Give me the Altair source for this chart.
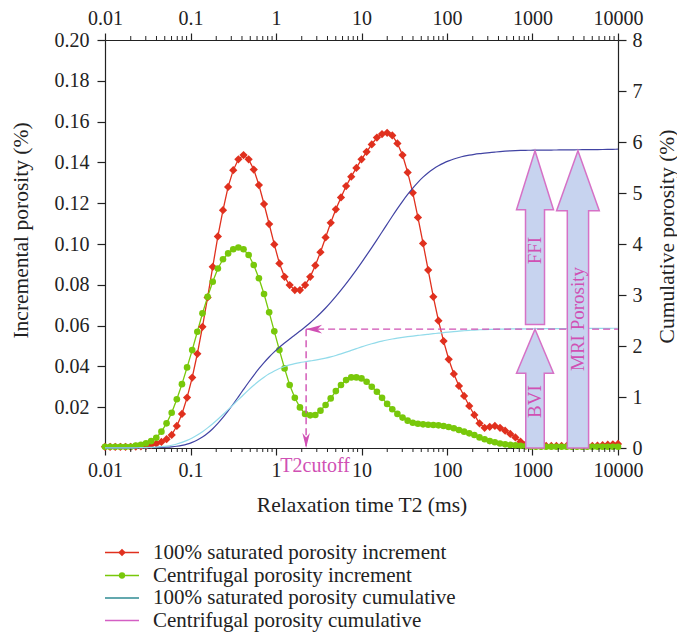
import altair as alt
import pandas as pd

FONT = "Liberation Serif"

# ---------------- data ----------------
t2 = [0.01000, 0.01148, 0.01318, 0.01514, 0.01738, 0.01995, 0.02291, 0.02630, 0.03020, 0.03467,
      0.03981, 0.04571, 0.05248, 0.06026, 0.06918, 0.07943, 0.09120,
      0.1047, 0.1202, 0.1380, 0.1585, 0.1820, 0.2089, 0.2399, 0.2754, 0.3162, 0.3631,
      0.4169, 0.4786, 0.5495, 0.6310, 0.7244, 0.8318, 0.9550,
      1.096, 1.259, 1.445, 1.660, 1.905, 2.188, 2.512, 2.884, 3.311, 3.802,
      4.365, 5.012, 5.754, 6.607, 7.586, 8.710,
      10.00, 11.48, 13.18, 15.14, 17.38, 19.95, 22.91, 26.30, 30.20, 34.67,
      39.81, 45.71, 52.48, 60.26, 69.18, 79.43, 91.20,
      104.7, 120.2, 138.0, 158.5, 182.0, 208.9, 239.9, 275.4, 316.2, 363.1,
      416.9, 478.6, 549.5, 631.0, 724.4, 831.8, 955.0,
      1096, 1259, 1445, 1660, 1905, 2188, 2512, 2884, 3311, 3802,
      4365, 5012, 5754, 6607, 7586, 8710, 10000]

sat_inc = [0.0006, 0.0006, 0.0006, 0.0006, 0.0006, 0.0006, 0.0007, 0.0008, 0.0010, 0.0015,
           0.0021, 0.0030, 0.0043, 0.0064, 0.0108, 0.0167, 0.0247, 0.0345, 0.0462, 0.0594,
           0.0738, 0.0888, 0.1037, 0.1166, 0.1280, 0.1362, 0.1415, 0.1436, 0.1415, 0.1365,
           0.1289, 0.1196, 0.1098, 0.0998, 0.0905, 0.0839, 0.0799, 0.0774, 0.0774, 0.0799,
           0.0839, 0.0895, 0.0960, 0.1032, 0.1104, 0.1170, 0.1228, 0.1284, 0.1330, 0.1373,
           0.1415, 0.1452, 0.1488, 0.1522, 0.1539, 0.1545, 0.1532, 0.1493, 0.1436, 0.1351,
           0.1251, 0.1130, 0.1003, 0.0872, 0.0741, 0.0624, 0.0524, 0.0435, 0.0363, 0.0304,
           0.0255, 0.0206, 0.0162, 0.0121, 0.0099, 0.0104, 0.0108, 0.0099, 0.0085, 0.0069,
           0.0052, 0.0031, 0.0018, 0.0012, 0.0010, 0.0010, 0.0010, 0.0010, 0.0010, 0.0010,
           0.0010, 0.0010, 0.0010, 0.0010, 0.0010, 0.0010, 0.0012, 0.0014, 0.0016, 0.0018,
           0.0020]

cen_inc = [0.0006, 0.0006, 0.0006, 0.0006, 0.0006, 0.0006, 0.0012, 0.0016, 0.0023, 0.0034,
           0.0050, 0.0080, 0.0121, 0.0173, 0.0239, 0.0313, 0.0395, 0.0480, 0.0570, 0.0660,
           0.0741, 0.0815, 0.0880, 0.0925, 0.0954, 0.0974, 0.0983, 0.0974, 0.0946, 0.0897,
           0.0832, 0.0755, 0.0665, 0.0572, 0.0480, 0.0390, 0.0309, 0.0246, 0.0199, 0.0167,
           0.0160, 0.0162, 0.0183, 0.0211, 0.0243, 0.0279, 0.0309, 0.0333, 0.0346, 0.0346,
           0.0341, 0.0325, 0.0300, 0.0276, 0.0246, 0.0216, 0.0190, 0.0167, 0.0149, 0.0134,
           0.0124, 0.0119, 0.0116, 0.0114, 0.0113, 0.0111, 0.0108, 0.0103, 0.0097, 0.0088,
           0.0080, 0.0072, 0.0064, 0.0052, 0.0043, 0.0034, 0.0028, 0.0022, 0.0018, 0.0015,
           0.0013, 0.0011, 0.0008, 0.0007, 0.0006, 0.0006, 0.0006, 0.0006, 0.0006, 0.0006,
           0.0006, 0.0006, 0.0006, 0.0006, 0.0006, 0.0006, 0.0006, 0.0006, 0.0006, 0.0006,
           0.0006]

x_decades = [0.01, 0.1, 1, 10, 100, 1000, 10000]
minor_ticks = [m * d for d in [0.01, 0.1, 1, 10, 100, 1000] for m in range(2, 10)]
y_left_ticks = [0.02, 0.04, 0.06, 0.08, 0.10, 0.12, 0.14, 0.16, 0.18, 0.20]
y_right_ticks = [0, 1, 2, 3, 4, 5, 6, 7, 8]

t2_cutoff = 2.25        # ms
bvi_cum = 2.33          # cumulative porosity at cutoff (%)
ffi_base = 2.42
total_cum = 5.83
arrow_names = ["BVI", "FFI", "MRI Porosity"]
arrow_t2 = [1070, 1070, 3400]
arrow_from = [0.0, ffi_base, 0.0]
arrow_to = [bvi_cum, total_cum, total_cum]
arrow_label_at = [0.91, 3.87, 2.53]

legend_labels = ["100% saturated porosity increment", "Centrifugal porosity increment",
                 "100% saturated porosity cumulative", "Centrifugal porosity cumulative"]
legend_colors = ["#e0301e", "#78c80a", "#2f8b93", "#d45fc4"]

# ---------------- style ----------------
W, H = 513, 408
PX_PER_CUM = H / 8.0
RED, GREEN, BLUE, CYAN = "#e0301e", "#78c80a", "#4143a3", "#92dbea"
MAG = "#d050b4"
ARROW_FILL, ARROW_STROKE = "#c7d3ef", "#d671c6"
TXT = "#222222"

df = pd.DataFrame({"t2": t2, "sat": sat_inc, "cen": cen_inc})

x_scale = alt.Scale(type="log", domain=[0.01, 10000], nice=False)
x_bottom = alt.Axis(orient="bottom", values=x_decades, format="~g", tickSize=7,
                    labelPadding=5, title="Relaxation time T2 (ms)", titlePadding=14,
                    labelFlush=False, labelOverlap=False)
x_top = alt.Axis(orient="top", values=x_decades, format="~g", tickSize=7,
                 labelPadding=5, title=None, labelFlush=False, labelOverlap=False)
y_inc_scale = alt.Scale(domain=[0, 0.2], nice=False, zero=True)
y_cum_scale = alt.Scale(domain=[0, 8], nice=False, zero=True)
y_left = alt.Axis(orient="left", values=y_left_ticks, format=".2f", tickSize=8,
                  labelPadding=8, title="Incremental porosity (%)",
                  titleX=-84, titleY=190, titleAngle=270, titleBaseline="middle",
                  titleAlign="center")
y_right = alt.Axis(orient="right", values=y_right_ticks, format="d", tickSize=8,
                   labelPadding=6, title="Cumulative porosity (%)",
                   titleX=49, titleY=196, titleAngle=270, titleBaseline="middle",
                   titleAlign="center")

XB = alt.X("t2:Q", scale=x_scale, axis=x_bottom)
XT = alt.X("t2:Q", scale=x_scale, axis=x_top)

base = alt.Chart(df)
red_line = base.mark_line(color=RED, strokeWidth=1.3).encode(
    x=XB, y=alt.Y("sat:Q", scale=y_inc_scale, axis=y_left))
red_pts = base.mark_point(shape="diamond", filled=True, size=68, color=RED, opacity=1).encode(
    x=XB, y=alt.Y("sat:Q", scale=y_inc_scale, axis=y_left))
green_line = base.mark_line(color=GREEN, strokeWidth=1.3).encode(
    x=XB, y=alt.Y("cen:Q", scale=y_inc_scale, axis=y_left))
green_pts = base.mark_circle(size=44, color=GREEN, opacity=1).encode(
    x=XB, y=alt.Y("cen:Q", scale=y_inc_scale, axis=y_left))

minor_df = pd.DataFrame({"t2": minor_ticks})
minor_bottom = alt.Chart(minor_df).mark_rule(color=TXT, strokeWidth=1).encode(
    x=XB, y=alt.value(H), y2=alt.value(H + 4))
minor_top = alt.Chart(minor_df).mark_rule(color=TXT, strokeWidth=1).encode(
    x=XB, y=alt.value(-4), y2=alt.value(0))

# legend (drawn below the plot)
legend_layers = []
leg_y = [512.5, 535.5, 558, 580.5]
for i, (lbl, col) in enumerate(zip(legend_labels, legend_colors)):
    d = pd.DataFrame({"label": [lbl]})
    legend_layers.append(alt.Chart(d).mark_rule(color=col, strokeWidth=1.3).encode(
        x=alt.value(0), x2=alt.value(34), y=alt.value(leg_y[i])))
    if i == 0:
        legend_layers.append(alt.Chart(d).mark_point(shape="diamond", filled=True, size=56,
                                                      color=col, opacity=1).encode(
            x=alt.value(17), y=alt.value(leg_y[i])))
    if i == 1:
        legend_layers.append(alt.Chart(d).mark_circle(size=40, color=col, opacity=1).encode(
            x=alt.value(17), y=alt.value(leg_y[i])))
    legend_layers.append(alt.Chart(d).mark_text(align="left", baseline="middle", font=FONT,
                                                fontSize=21, color=TXT).encode(
        x=alt.value(48), y=alt.value(leg_y[i]), text="label:N"))

inc_group = alt.layer(red_line, green_line, red_pts, green_pts, minor_bottom, minor_top,
                      *legend_layers)

# cumulative curves
cum_base = base.transform_window(
    cum_sat="sum(sat)", cum_cen="sum(cen)", sort=[alt.SortField("t2")], frame=[None, 0])
blue_line = cum_base.mark_line(color=BLUE, strokeWidth=1.2, interpolate="monotone").encode(
    x=XT, y=alt.Y("cum_sat:Q", scale=y_cum_scale, axis=y_right))
cyan_line = cum_base.mark_line(color=CYAN, strokeWidth=1.2, interpolate="monotone").encode(
    x=XT, y=alt.Y("cum_cen:Q", scale=y_cum_scale, axis=y_right))

cut_df = pd.DataFrame({"t2": [t2_cutoff], "t2e": [10000], "v": [bvi_cum], "v0": [0.0],
                       "lbl": ["T2cutoff"]})
YC = alt.Y("v:Q", scale=y_cum_scale, axis=y_right)
dash_h = alt.Chart(cut_df).mark_rule(color=MAG, strokeWidth=1.4, strokeDash=[7, 4]).encode(
    x=XT, x2="t2e:Q", y=YC)
dash_v = alt.Chart(cut_df).mark_rule(color=MAG, strokeWidth=1.4, strokeDash=[7, 4]).encode(
    x=XT, y=YC, y2=alt.Y2("v0:Q"))
head_left = alt.Chart(cut_df).mark_point(
    shape="M0,0L2,-0.55L1.4,0L2,0.55Z", size=256, filled=True, color=MAG, opacity=1).encode(
    x=XT, y=YC)
head_down = alt.Chart(cut_df).mark_point(
    shape="M0,0L-0.5,-2L0,-1.4L0.5,-2Z", size=225, filled=True, color=MAG, opacity=1).encode(
    x=XT, y=alt.Y("v0:Q", scale=y_cum_scale, axis=y_right))
cut_text = alt.Chart(cut_df).mark_text(font=FONT, fontSize=20, color=MAG, baseline="middle",
                                       align="center", dx=9).encode(
    x=XT, y=alt.value(H + 18), text="lbl:N")


def arrow_shape(hpx, head_w, head_h, shaft_w):
    s = hpx / 2.0
    hw, sw, hb = head_w / 2 / s, shaft_w / 2 / s, -1 + head_h / s
    return (f"M0,-1L{hw:.4f},{hb:.4f}L{sw:.4f},{hb:.4f}L{sw:.4f},1L{-sw:.4f},1"
            f"L{-sw:.4f},{hb:.4f}L{-hw:.4f},{hb:.4f}Z")


arrow_geom = [(37, 44, 18.5), (37, 59, 19), (42.7, 60, 21.3)]
arrow_layers = []
text_layers = []
for name, xc, a, b, lab, (hw, hh, sw) in zip(arrow_names, arrow_t2, arrow_from, arrow_to,
                                              arrow_label_at, arrow_geom):
    hpx = (b - a) * PX_PER_CUM
    d = pd.DataFrame({"t2": [xc], "v": [(a + b) / 2], "lab": [lab], "name": [name]})
    arrow_layers.append(alt.Chart(d).mark_point(
        shape=arrow_shape(hpx, hw, hh, sw), size=hpx * hpx, filled=True, fill=ARROW_FILL,
        stroke=ARROW_STROKE, strokeWidth=1.5, opacity=1, fillOpacity=1).encode(x=XT, y=YC))
    text_layers.append(alt.Chart(d).mark_text(font=FONT, fontSize=19, color=MAG, angle=270,
                                              baseline="middle", align="center").encode(
        x=XT, y=alt.Y("lab:Q", scale=y_cum_scale, axis=y_right), text="name:N"))

cum_group = alt.layer(blue_line, cyan_line, dash_h, dash_v, head_left, head_down,
                      *arrow_layers, *text_layers, cut_text)

chart = alt.layer(inc_group, cum_group).resolve_scale(y="independent").resolve_axis(
    x="independent", y="independent"
).properties(
    width=W, height=H,
    autosize=alt.AutoSizeParams(type="none"),
    padding={"left": 105, "top": 40, "right": 59, "bottom": 189},
    background="white",
).configure_view(stroke=None).configure_axis(
    labelFont=FONT, titleFont=FONT, labelFontSize=20, titleFontSize=21.5,
    titleFontWeight="normal", labelColor=TXT, titleColor=TXT,
    domainColor=TXT, tickColor=TXT, domainWidth=1.2, tickWidth=1.2, grid=False)

chart.save("out.html", embed_options={"renderer": "svg", "actions": False})
